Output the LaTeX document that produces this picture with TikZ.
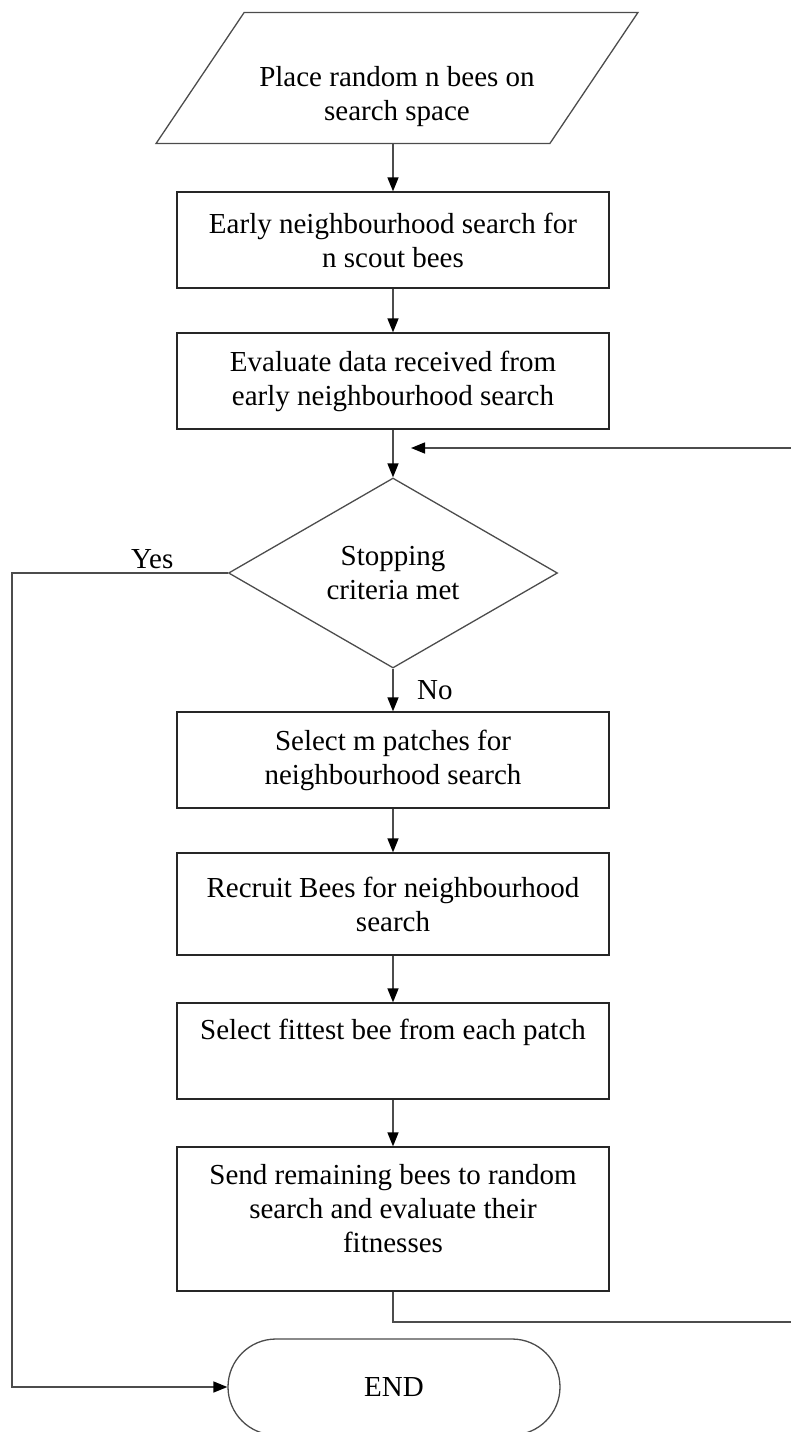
\documentclass[tikz,border=0pt]{standalone}
\usepackage{fontspec}
\setmainfont{Liberation Serif}
\usetikzlibrary{arrows.meta,shapes.geometric}

\begin{document}
\begin{tikzpicture}[x=1pt, y=-1pt, >={Triangle[length=14pt, width=11pt, color=black]},
    font=\fontsize{29}{34}\selectfont,
    stepbox/.style={draw=black!85, line width=1.3pt, rectangle, align=center, minimum width=432pt, minimum height=96pt, inner sep=0pt},
    flow/.style={draw=black!70, line width=1.5pt}]
    \useasboundingbox (0,0) rectangle (791,1432);
    \clip (0,0) rectangle (791,1432);
    % Bees algorithm flow
    \node (place) at (397,78) [trapezium, trapezium left angle=51, trapezium right angle=129, trapezium stretches, draw=black!70, line width=1.3pt, minimum width=485pt, minimum height=131pt, inner sep=0pt, align=center] {\strut\\Place random n bees on\\search space};
    \node (early) at (393,240) [stepbox] {Early neighbourhood search for\\n scout bees};
    \node (eval) at (393,381) [stepbox] {Evaluate data received from\\early neighbourhood search};
    \node (stop) at (393,573) [diamond, draw=black!70, line width=1.3pt, minimum width=329pt, minimum height=190pt, aspect=1.7, inner sep=0pt, align=center] {Stopping\\criteria met};
    \node (select) at (393,760) [stepbox] {Select m patches for\\neighbourhood search};
    \node (recruit) at (393,904) [stepbox, minimum height=102pt] {Recruit Bees for neighbourhood\\search};
    \node (fittest) at (393,1051) [stepbox] {Select fittest bee from each patch\\\strut};
    \node (send) at (393,1219) [stepbox, minimum height=144pt] {Send remaining bees to random\\search and evaluate their\\fitnesses\\[-24pt]\strut};
    \node (finish) at (394,1387) [draw=black!70, line width=1.3pt, rectangle, rounded corners=48pt, minimum width=332pt, minimum height=96pt, inner sep=0pt] {END};

    \coordinate (leftrail) at (12,573);
    \coordinate (loopbottom) at (793,1322);
    \coordinate (looptop) at (793,448);
    \coordinate (loopin) at (411,448);

    \draw [flow, ->] (place.south -| early.north) -- (early.north);
    \draw [flow, ->] (early) -- (eval);
    \draw [flow, ->] (eval) -- (stop);
    \draw [flow, ->] (stop) -- node [right, xshift=20pt] {No} (select);
    \draw [flow, ->] (select) -- (recruit);
    \draw [flow, ->] (recruit) -- (fittest);
    \draw [flow, ->] (fittest) -- (send);

    \draw [flow, ->] (stop.west) -- node [above, pos=0.35] {Yes} (leftrail) |- (finish.west);
    \draw [flow, ->] (send.south) |- (loopbottom) -- (looptop) -- (loopin);
\end{tikzpicture}
\end{document}
